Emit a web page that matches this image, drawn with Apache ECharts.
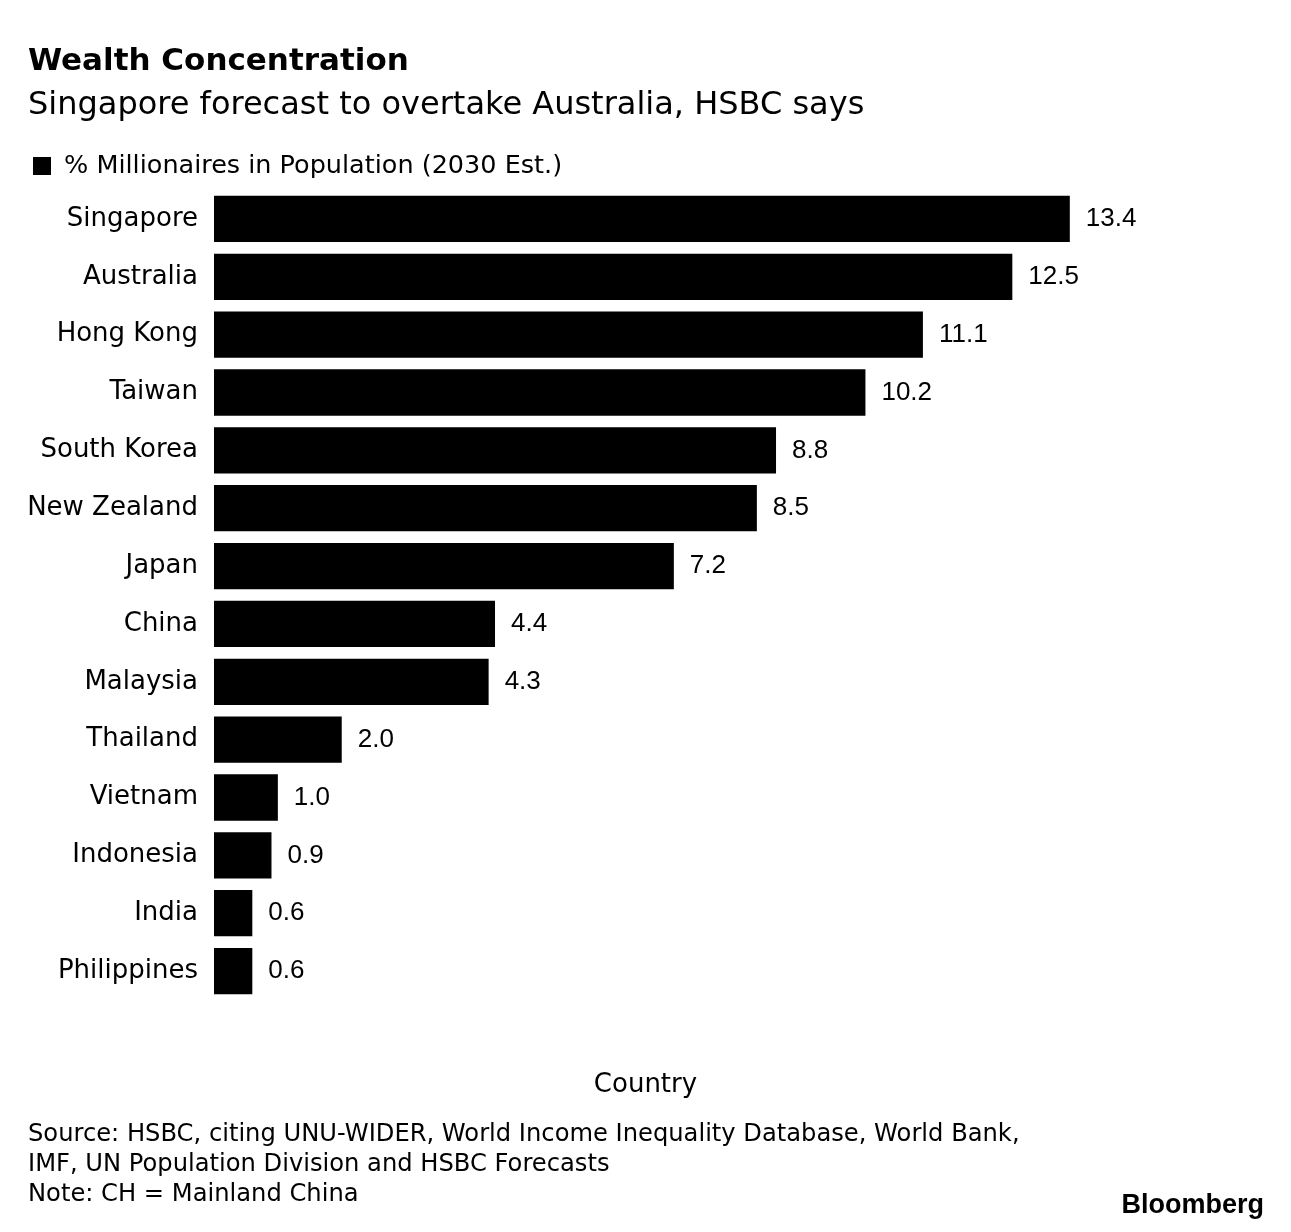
<!DOCTYPE html>
<html><head><meta charset="utf-8">
<script src="https://cdn.jsdelivr.net/npm/echarts@6/dist/echarts.min.js"></script>
<style>html,body{margin:0;padding:0;background:#fff}#c{width:1291px;height:1232px}</style>
</head><body><div id="c"></div>
<script>
const categories = ["Singapore","Australia","Hong Kong","Taiwan","South Korea","New Zealand","Japan","China","Malaysia","Thailand","Vietnam","Indonesia","India","Philippines"];
const values = [13.4,12.5,11.1,10.2,8.8,8.5,7.2,4.4,4.3,2.0,1.0,0.9,0.6,0.6];
const seriesName = "% Millionaires in Population (2030 Est.)";
const FONT = "DejaVu Sans";
const FONT2 = "Liberation Sans";
const chart = echarts.init(document.getElementById('c'), null, {renderer:'canvas'});
chart.setOption({
  animation:false,
  textStyle:{fontFamily:FONT},
  title:[
    {text:"Wealth Concentration", left:23, top:41, textStyle:{fontFamily:FONT,fontSize:31,fontWeight:'bold',color:'#000'}},
    {text:"Singapore forecast to overtake Australia, HSBC says", left:23, top:85, textStyle:{fontFamily:FONT,fontSize:32,fontWeight:'normal',color:'#000'}},
    {text:"Country", left:'center', top:1067, textStyle:{fontFamily:FONT,fontSize:26,fontWeight:'normal',color:'#000'}},
    {text:"Source: HSBC, citing UNU-WIDER, World Income Inequality Database, World Bank,\nIMF, UN Population Division and HSBC Forecasts\nNote: CH = Mainland China", left:23, top:1115, textStyle:{fontFamily:FONT,fontSize:24.2,lineHeight:30,fontWeight:'normal',color:'#000'}},
    {text:"Bloomberg", right:22, top:1187, textStyle:{fontFamily:FONT2,fontSize:27,fontWeight:'bold',color:'#000'}}
  ],
  legend:{left:28, top:148, itemWidth:18, itemHeight:18, icon:'rect',
    formatter:n=>' '+n,
    textStyle:{fontFamily:FONT,fontSize:25.5,color:'#000'}, data:[seriesName]},
  grid:{left:214, top:190, width:958, height:810, containLabel:false},
  xAxis:{type:'value', min:0, max:15, show:false},
  yAxis:{type:'category', data:categories, inverse:true,
    axisLine:{show:false}, axisTick:{show:false},
    axisLabel:{fontFamily:FONT,fontSize:26,color:'#000',margin:16}},
  series:[{name:seriesName, type:'bar', data:values, barCategoryGap:'20%',
    itemStyle:{color:'#000'},
    label:{show:true, position:'right', distance:16, fontFamily:FONT2, fontSize:26, color:'#000',
      formatter:p=>p.value.toFixed(1)}}]
});
</script></body></html>
